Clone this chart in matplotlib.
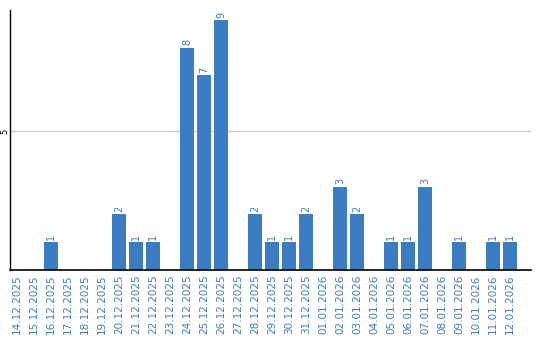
import matplotlib
matplotlib.use('Agg')
import matplotlib.pyplot as plt
import numpy as np

dates = ['14.12.2025', '15.12.2025', '16.12.2025', '17.12.2025', '18.12.2025',
         '19.12.2025', '20.12.2025', '21.12.2025', '22.12.2025', '23.12.2025',
         '24.12.2025', '25.12.2025', '26.12.2025', '27.12.2025', '28.12.2025',
         '29.12.2025', '30.12.2025', '31.12.2025', '01.01.2026', '02.01.2026',
         '03.01.2026', '04.01.2026', '05.01.2026', '06.01.2026', '07.01.2026',
         '08.01.2026', '09.01.2026', '10.01.2026', '11.01.2026', '12.01.2026']
counts = [0, 0, 1, 0, 0, 0, 2, 1, 1, 0,
          8, 7, 9, 0, 2, 1, 1, 2, 0, 3,
          2, 0, 1, 1, 3, 0, 1, 0, 1, 1]

blue = '#3a7dc2'

fig = plt.figure(figsize=(5.4, 3.4), dpi=100)
ax = fig.add_axes([0.0194, 0.206, 0.964, 0.764])

x = np.arange(len(dates))
ax.bar(x, counts, width=0.82, color=blue, zorder=2)
for xi, v in zip(x, counts):
    if v > 0:
        ax.text(xi, v + 0.08, str(v), rotation=90, ha='center', va='bottom',
                fontsize=7, color=blue)

ax.set_xlim(-0.38, 30.24)
ax.set_ylim(0, 9.35)
ax.set_xticks(x)
ax.set_xticklabels(dates, rotation=90, fontsize=7.5, color=blue)
ax.set_yticks([5])
ax.set_yticklabels(['5'], rotation=90, fontsize=6, va='center')
ax.tick_params(axis='x', length=0, pad=3)
ax.tick_params(axis='y', length=0, pad=1)
ax.axhline(5, color='#cccccc', linewidth=1, zorder=1)

for s in ['top', 'right']:
    ax.spines[s].set_visible(False)
ax.spines['left'].set_linewidth(1)
ax.spines['bottom'].set_linewidth(1.2)

plt.savefig('out.png', dpi=100)
